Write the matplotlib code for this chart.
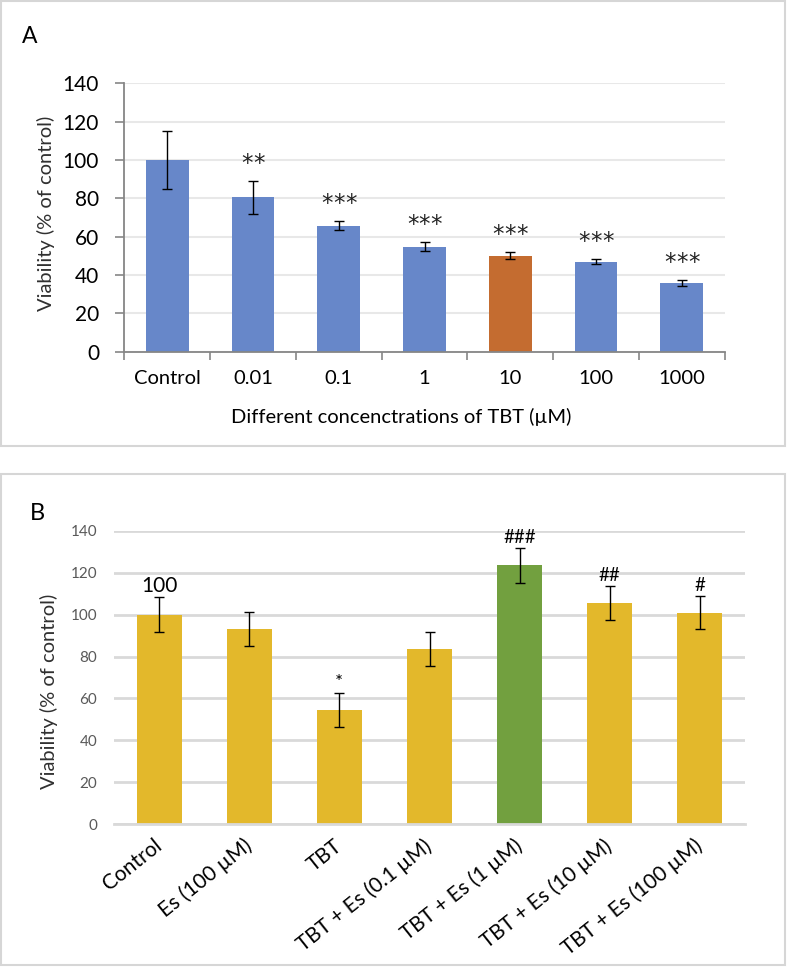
import matplotlib
matplotlib.use("Agg")
import matplotlib.pyplot as plt
from matplotlib.patches import Rectangle
import numpy as np

plt.rcParams['font.family'] = ['Lato', 'DejaVu Sans']

# ---------------- data ----------------
ylabel_text = "Viability (% of control)"
yticks = [0, 20, 40, 60, 80, 100, 120, 140]

a_categories = ['Control', '0.01', '0.1', '1', '10', '100', '1000']
a_values = [100, 80.5, 65.7, 54.7, 50.1, 46.9, 35.8]
a_errors = [15, 8.7, 2.3, 2.3, 1.8, 1.4, 1.7]
a_signif = ['', '**', '***', '***', '***', '***', '***']
a_highlight = '10'
a_xlabel = 'Different concenctrations of TBT (µM)'

b_categories = ['Control', 'Es (100 µM)', 'TBT', 'TBT + Es (0.1 µM)',
                'TBT + Es (1 µM)', 'TBT + Es (10 µM)', 'TBT + Es (100 µM)']
b_values = [100, 93.2, 54.5, 83.7, 123.6, 105.6, 100.9]
b_errors = [8.3, 8.1, 8.0, 8.0, 8.3, 8.2, 7.9]
b_annot = ['100', '', '*', '', '###', '##', '#']
b_highlight = 'TBT + Es (1 µM)'

# ---------------- figure ----------------
W, H = 787, 967
fig = plt.figure(figsize=(W / 100, H / 100), dpi=100)


def fx(px):
    return px / W


def fy(py):
    return 1 - py / H


# panel borders
for (x0, y0, x1, y1) in [(1, 1, 785, 446), (1, 474, 785, 965)]:
    fig.add_artist(Rectangle((fx(x0), fy(y1)), fx(x1) - fx(x0), fy(y0) - fy(y1),
                             transform=fig.transFigure, fill=False,
                             edgecolor='#d6d6d6', lw=1.5))

# ---------------- Panel A ----------------
axA = fig.add_axes([fx(124.3), fy(351.7), fx(724.7) - fx(124.3), fy(83.3) - fy(351.7)])
xa = np.arange(len(a_categories))
colA = ['#C46C30' if c == a_highlight else '#6787C9' for c in a_categories]
axA.bar(xa, a_values, width=0.5, color=colA, zorder=2)
axA.errorbar(xa, a_values, yerr=a_errors, fmt='none', ecolor='black',
             elinewidth=1, capsize=3.5, capthick=1, zorder=3)
pitch = 8.6  # points between neighbouring asterisks
for i, s in enumerate(a_signif):
    n = len(s)
    for k, ch in enumerate(s):
        dx = (k - (n - 1) / 2) * pitch
        axA.annotate(ch, xy=(xa[i], a_values[i] + a_errors[i]), xytext=(dx, 8),
                     textcoords='offset points', ha='center', va='baseline',
                     fontsize=16.5, color='#222222', family='DejaVu Sans')
axA.set_xlim(-0.5, len(a_categories) - 0.5)
axA.set_ylim(0, 140)
axA.set_yticks(yticks)
axA.set_yticklabels([str(t) for t in yticks], fontsize=15, color='black')
axA.set_xticks(np.arange(len(a_categories) + 1) - 0.5)
axA.set_xticklabels([])
axA.set_xticks(xa, minor=True)
axA.set_xticklabels(a_categories, minor=True, fontsize=14.5, color='black')
axA.tick_params(axis='x', which='major', length=5.5, width=1.2, color='#868686', direction='out')
axA.tick_params(axis='x', which='minor', length=0, pad=13)
axA.tick_params(axis='y', length=6.2, width=1.2, color='#868686', pad=12)
axA.grid(axis='y', color='#e8e8e8', lw=1.5, zorder=0)
axA.set_axisbelow(True)
for sp in ['top', 'right']:
    axA.spines[sp].set_visible(False)
for sp in ['left', 'bottom']:
    axA.spines[sp].set_color('#868686')
    axA.spines[sp].set_linewidth(1.3)

fig.text(fx(401), fy(416.7), a_xlabel, ha='center', va='center', fontsize=14.5, color='black')
fig.text(fx(46), fy(213.8), ylabel_text, ha='center', va='center', rotation=90,
         fontsize=14.5, color='#303030')
fig.text(fx(22), fy(43), 'A', ha='left', va='baseline', fontsize=16.5, color='black')

# ---------------- Panel B ----------------
axB = fig.add_axes([fx(114), fy(824), fx(745) - fx(114), fy(531) - fy(824)])
xb = np.arange(len(b_categories))
colB = ['#72A03F' if c == b_highlight else '#E3B82B' for c in b_categories]
axB.bar(xb, b_values, width=0.5, color=colB, zorder=2)
axB.errorbar(xb, b_values, yerr=b_errors, fmt='none', ecolor='black',
             elinewidth=1, capsize=3.5, capthick=1, zorder=3)
for i, s in enumerate(b_annot):
    if s:
        fs = 15 if s == '100' else 13.5
        axB.annotate(s, xy=(xb[i], b_values[i] + b_errors[i]), xytext=(0, 3.5),
                     textcoords='offset points', ha='center', va='baseline',
                     fontsize=fs, color='black')
axB.set_xlim(-0.5, len(b_categories) - 0.5)
axB.set_ylim(0, 140)
axB.set_yticks(yticks)
axB.set_yticklabels([str(t) for t in yticks], fontsize=11, color='#595959')
axB.set_xticks(xb)
axB.set_xticklabels(b_categories, fontsize=15, color='black', rotation=38.5,
                    ha='right', va='center', rotation_mode='anchor')
axB.tick_params(axis='x', length=0, pad=14)
axB.tick_params(axis='y', length=0, pad=12)
axB.grid(axis='y', color='#d9d9d9', lw=2, zorder=0)
axB.set_axisbelow(True)
for sp in ['top', 'right', 'left']:
    axB.spines[sp].set_visible(False)
axB.spines['bottom'].set_color('#d9d9d9')
axB.spines['bottom'].set_linewidth(2)

fig.text(fx(49), fy(691), ylabel_text, ha='center', va='center', rotation=90,
         fontsize=14.5, color='#303030')
fig.text(fx(30), fy(520), 'B', ha='left', va='baseline', fontsize=17, color='black')

fig.savefig('out.png', dpi=100)
